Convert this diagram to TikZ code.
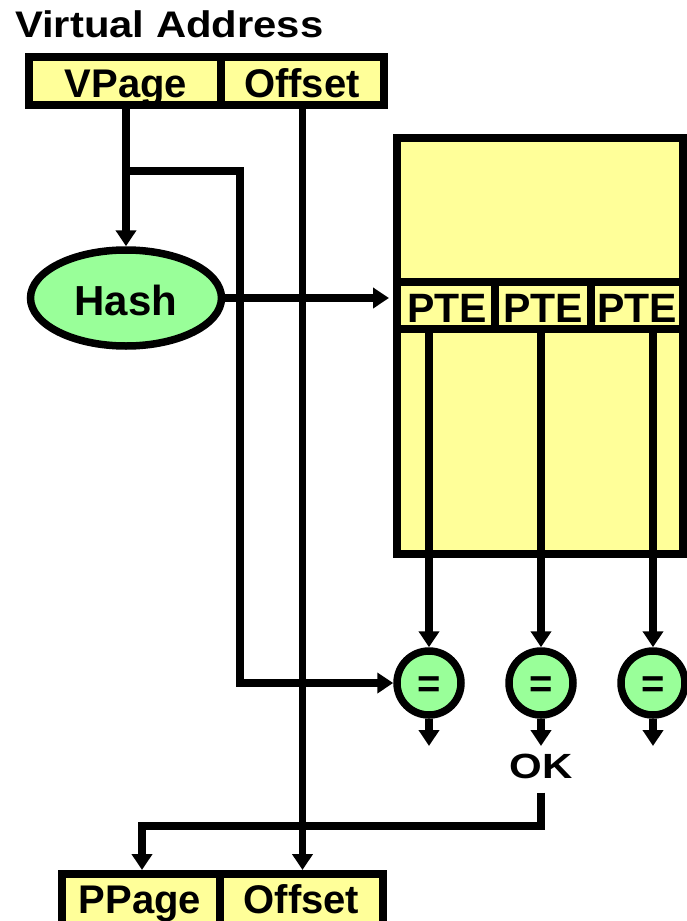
\documentclass[tikz,border=0pt]{standalone}
\usepackage{fontspec}
\usepackage{graphicx}
\setmainfont{Liberation Sans}
\usetikzlibrary{arrows.meta,shapes.geometric}
\definecolor{yel}{HTML}{FFFF99}
\definecolor{grn}{HTML}{99FF99}
\begin{document}
\begin{tikzpicture}[x=1pt,y=-1pt,
  box/.style={draw,line width=8pt,fill=yel,inner sep=0pt},
  oval/.style={draw,ellipse,fill=grn,line width=7.5pt,inner sep=0pt},
  circ/.style={draw,circle,fill=grn,line width=7.5pt,minimum size=64pt,inner sep=0pt},
  wire/.style={line width=7.5pt},
  arr/.style={wire,-{Triangle[length=16pt,width=20pt]}},
  lbl/.style={font=\fontsize{40}{48}\selectfont\bfseries,inner sep=0pt,anchor=base},
]
\useasboundingbox (0,0) rectangle (687,921);
\fill[white] (0,0) rectangle (687,921);

% title
\node[lbl,anchor=base west,font=\fontsize{37}{44}\selectfont\bfseries] (title) at (15,37) {\scalebox{1.13}[1]{Virtual Address}};

% virtual address boxes
\node[box,minimum width=192pt,minimum height=48pt] (vpage) at (125,81) {};
\node[box,minimum width=163pt,minimum height=48pt] (voff) at (302.5,81) {};
\node[lbl] (tvpage) at (126,97) {VPage};
\node[lbl] (tvoff) at (302,97) {Offset};

% page table
\node[box,minimum width=286pt,minimum height=416pt] (table) at (540,346) {};
\node[box,minimum width=98pt,minimum height=47pt] (pte1) at (446,305) {};
\node[box,minimum width=96pt,minimum height=47pt] (pte2) at (543,305) {};
\node[box,minimum width=92pt,minimum height=47pt] (pte3) at (637,305) {};
\node[lbl,font=\fontsize{41}{49}\selectfont\bfseries] (tpte1) at (447,322) {PTE};
\node[lbl,font=\fontsize{41}{49}\selectfont\bfseries] (tpte2) at (543,322) {PTE};
\node[lbl,font=\fontsize{41}{49}\selectfont\bfseries] (tpte3) at (637,322) {PTE};

% hash
\node[oval,minimum width=191pt,minimum height=96pt] (hash) at (126,298) {};
\node[lbl,font=\fontsize{42}{50}\selectfont\bfseries] (thash) at (126,315) {Hash};

% comparators
\node[circ] (c1) at (429,683) {};
\node[circ] (c2) at (541,683) {};
\node[circ] (c3) at (653,683) {};
\node[lbl] (e1) at (429,697) {=};
\node[lbl] (e2) at (541,697) {=};
\node[lbl] (e3) at (653,697) {=};
\coordinate (o1) at (429,746);
\coordinate (o2) at (541,746);
\coordinate (o3) at (653,746);

% OK
\node[lbl,font=\fontsize{35}{42}\selectfont\bfseries] (ok) at (541,778) {\scalebox{1.2}[1]{OK}};
\coordinate (bend) at (142,826);

% physical address boxes
\node[box,minimum width=158pt,minimum height=56pt] (ppage) at (141,902) {};
\node[box,minimum width=163pt,minimum height=56pt] (poff) at (301.5,902) {};
\node[lbl] (tppage) at (140,913) {PPage};
\node[lbl] (tpoff) at (301.5,913) {Offset};

% connectors
\coordinate (br) at (126,171);
\coordinate (brc) at (240,171);
\draw[arr] (vpage.south -| hash.north) -- (hash.north);
\draw[arr] (br) -- (brc) |- (c1.west);
\draw[arr] (voff.south) -- (voff.south |- poff.north);
\draw[arr,shorten >=4pt] (hash.east) -- (table.west |- hash.east);
\draw[arr] (c1 |- pte1.south) -- (c1.north);
\draw[arr] (c2 |- pte2.south) -- (c2.north);
\draw[arr] (c3 |- pte3.south) -- (c3.north);
\draw[arr] (c1.south) -- (o1);
\draw[arr] (c2.south) -- (o2);
\draw[arr] (c3.south) -- (o3);
\draw[arr] ([yshift=-14pt]ok.south) |- (bend) -- (bend |- ppage.north);
\end{tikzpicture}
\end{document}
